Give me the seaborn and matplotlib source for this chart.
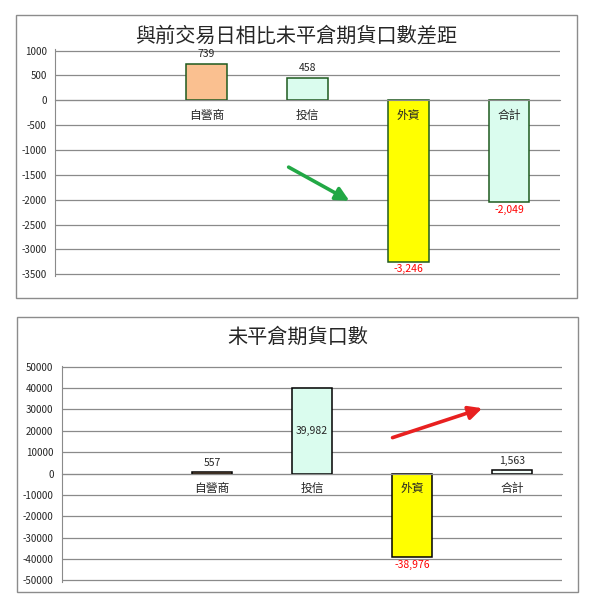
import numpy as np
import pandas as pd
import matplotlib
matplotlib.use("Agg")
import matplotlib.pyplot as plt
import seaborn as sns
from matplotlib.patches import Rectangle

sns.set_style("white")
plt.rcParams['font.family'] = ['Noto Sans CJK TC', 'DejaVu Sans']
plt.rcParams['axes.unicode_minus'] = False

# ---------------- Data ----------------
slots = ["", "自營商", "投信", "外資", "合計"]   # first slot is left empty in the chart
cats = ["自營商", "投信", "外資", "合計"]

diff_values = [739, 458, -3246, -2049]
diff_colors = ["#FAC090", "#DAFCEE", "#FFFF00", "#DAFCEE"]
diff_ticks = list(range(-3500, 1001, 500))

oi_values = [557, 39982, -38976, 1563]
oi_colors = ["#FAC090", "#DAFCEE", "#FFFF00", "#F4FFFB"]
oi_ticks = list(range(-50000, 50001, 10000))

grid_col = "#8a8a8a"


def draw_panel(ax, values, colors, ticks, edge, center_idx=None):
    df = pd.DataFrame({"cat": cats, "val": values})
    sns.barplot(data=df, x="cat", y="val", hue="cat", order=slots,
                palette=dict(zip(cats, colors)), legend=False, saturation=1,
                width=0.4, ax=ax, zorder=2)
    for cont in ax.containers:
        for bar in cont:
            bar.set_edgecolor(edge)
            bar.set_linewidth(1.1)

    span = ticks[-1] - ticks[0]
    ax.set_ylim(ticks[0] - span * 0.008, ticks[-1] + span * 0.005)
    ax.set_yticks(ticks)
    ax.tick_params(axis="y", labelsize=7, length=4, color=grid_col, pad=2)
    ax.set_xlim(-0.5, len(slots) - 0.5)
    ax.set_xticks(np.arange(len(slots)) + 0.5)
    ax.set_xticklabels([])
    ax.tick_params(axis="x", length=3, color=grid_col, direction="out")
    ax.set_xlabel("")
    ax.set_ylabel("")
    ax.grid(axis="y", color=grid_col, linewidth=0.9)
    ax.set_axisbelow(True)
    for s in ["top", "right"]:
        ax.spines[s].set_visible(False)
    ax.spines["left"].set_color(grid_col)
    ax.spines["bottom"].set_color(grid_col)
    ax.spines["bottom"].set_position(("data", 0))

    # category names sit just under the zero line, over the bars
    for i, c in enumerate(slots):
        if c:
            ax.annotate(c, (i, 0), xytext=(0, -11), textcoords="offset points",
                        ha="center", va="center", fontsize=8.5, zorder=5)

    # value labels
    for i, v in enumerate(values):
        xi = i + 1
        txt = f"{v:,}"
        if center_idx == i:
            ax.text(xi, v / 2, txt, ha="center", va="center", fontsize=7.5, zorder=5)
        elif v >= 0:
            ax.annotate(txt, (xi, v), xytext=(0, 3), textcoords="offset points",
                        ha="center", va="bottom", fontsize=7.5, zorder=5)
        else:
            ax.annotate(txt, (xi, v), xytext=(0, -2), textcoords="offset points",
                        ha="center", va="top", fontsize=7.5, color="red", zorder=5)


fig = plt.figure(figsize=(5.89, 6.0), dpi=100)

# panel frames
fig.patches.append(Rectangle((0.027, 0.503), 0.952, 0.472, transform=fig.transFigure,
                             fill=False, edgecolor="#8c8c8c", linewidth=1))
fig.patches.append(Rectangle((0.029, 0.013), 0.952, 0.459, transform=fig.transFigure,
                             fill=False, edgecolor="#8c8c8c", linewidth=1))

ax1 = fig.add_axes([0.0934, 0.540, 0.857, 0.3775])
draw_panel(ax1, diff_values, diff_colors, diff_ticks, "#1E5A1E")
fig.text(0.503, 0.94, "與前交易日相比未平倉期貨口數差距", ha="center", va="center",
         fontsize=14.5)
ax1.annotate("", xy=(2.44, -2049), xytext=(1.79, -1318),
             arrowprops=dict(arrowstyle="-|>,head_length=0.8,head_width=0.4",
                             color="#22A845", lw=2.6))

ax2 = fig.add_axes([0.105, 0.030, 0.849, 0.3605])
draw_panel(ax2, oi_values, oi_colors, oi_ticks, "#000000", center_idx=1)
fig.text(0.505, 0.437, "未平倉期貨口數", ha="center", va="center", fontsize=14.5)
ax2.annotate("", xy=(3.73, 31000), xytext=(2.78, 16400),
             arrowprops=dict(arrowstyle="-|>,head_length=0.8,head_width=0.4",
                             color="#E82020", lw=2.6))

fig.savefig("out.png", dpi=100)
